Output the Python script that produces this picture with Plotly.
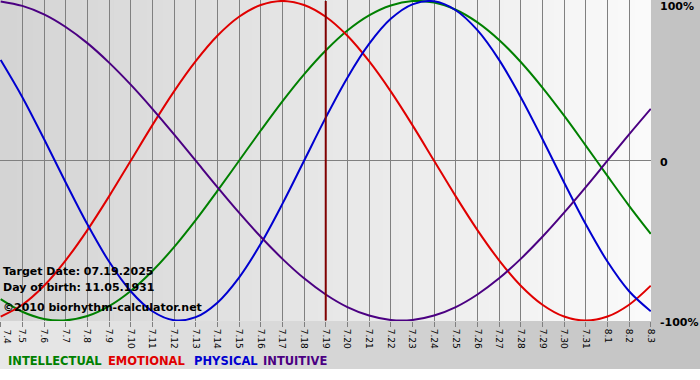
import plotly.graph_objects as go

# ---- data ----
dates = ["7.4", "7.5", "7.6", "7.7", "7.8", "7.9", "7.10", "7.11", "7.12", "7.13",
         "7.14", "7.15", "7.16", "7.17", "7.18", "7.19", "7.20", "7.21", "7.22", "7.23",
         "7.24", "7.25", "7.26", "7.27", "7.28", "7.29", "7.30", "7.31", "8.1", "8.2", "8.3"]

intellectual = [-0.866, -0.945, -0.990, -0.999, -0.972, -0.910, -0.815, -0.690, -0.541, -0.372,
                -0.189, 0.000, 0.189, 0.372, 0.541, 0.690, 0.815, 0.910, 0.972, 0.999,
                0.990, 0.945, 0.866, 0.756, 0.618, 0.458, 0.282, 0.095, -0.095, -0.282, -0.458]
emotional = [-0.975, -0.901, -0.782, -0.623, -0.434, -0.223, 0.000, 0.223, 0.434, 0.623,
             0.782, 0.901, 0.975, 1.000, 0.975, 0.901, 0.782, 0.623, 0.434, 0.223,
             0.000, -0.223, -0.434, -0.623, -0.782, -0.901, -0.975, -1.000, -0.975, -0.901, -0.782]
physical = [0.631, 0.398, 0.136, -0.136, -0.398, -0.631, -0.817, -0.942, -0.998, -0.979,
            -0.888, -0.731, -0.520, -0.270, 0.000, 0.270, 0.520, 0.731, 0.888, 0.979,
            0.998, 0.942, 0.817, 0.631, 0.398, 0.136, -0.136, -0.398, -0.631, -0.817, -0.942]
intuitive = [0.997, 0.969, 0.916, 0.837, 0.736, 0.614, 0.476, 0.325, 0.165, 0.000,
             -0.165, -0.325, -0.476, -0.614, -0.736, -0.837, -0.916, -0.969, -0.997, -0.997,
             -0.969, -0.916, -0.837, -0.736, -0.614, -0.476, -0.325, -0.165, 0.000, 0.165, 0.325]

series_names = ["INTELLECTUAL", "EMOTIONAL", "PHYSICAL", "INTUITIVE"]
series_colors = ["#008000", "#e00000", "#0000d0", "#4b0082"]

target_date = "7.19"
target_text = "Target Date: 07.19.2025"
birth_text = "Day of birth: 11.05.1931"
copyright_text = "©2010 biorhythm-calculator.net"

y_tick_vals = [1, 0, -1]
y_tick_text = ["100%", "0", "-100%"]

# ---- figure ----
W, H = 700, 380
ML, MR, MT, MB = 0, 49, 0, 59
PW, PH = W - ML - MR, H - MT - MB
FONT = "DejaVu Sans"

fig = go.Figure()
for name, vals, col in zip(series_names, [intellectual, emotional, physical, intuitive], series_colors):
    fig.add_trace(go.Scatter(x=list(range(len(dates))), y=vals, mode="lines", name=name,
                             line=dict(color=col, width=2, shape="spline", smoothing=1.0),
                             showlegend=False, hoverinfo="skip"))

def lerp_gray(a, b, t):
    v = int(round(a + (b - a) * t))
    return f"rgb({v},{v},{v})"

shapes = []
# outer background gradient (light left -> darker right)
N = 70
bottom_px = 369
for i in range(N):
    x0 = (i / N) * W / PW
    x1 = ((i + 1) / N) * W / PW + 0.002
    shapes.append(dict(type="rect", xref="paper", yref="paper", x0=x0, x1=x1,
                       y0=(PH - (bottom_px - MT)) / PH, y1=1.0,
                       fillcolor=lerp_gray(0xe8, 0xc2, i / (N - 1)),
                       line=dict(width=0), layer="below"))
# plot area gradient (darker left -> light right)
N2 = 80
for i in range(N2):
    x0 = i / N2
    x1 = min(1.0, (i + 1) / N2 + 0.002)
    shapes.append(dict(type="rect", xref="paper", yref="paper", x0=x0, x1=x1,
                       y0=0, y1=1, fillcolor=lerp_gray(0xd4, 0xfa, i / (N2 - 1)),
                       line=dict(width=0), layer="below"))
# target date line
ti = dates.index(target_date)
shapes.append(dict(type="line", xref="x", yref="y", x0=ti, x1=ti,
                   y0=-1, y1=1, line=dict(color="#800000", width=2), layer="above"))

annotations = []
for txt, ypx in [(target_text, 271), (birth_text, 287), (copyright_text, 307)]:
    annotations.append(dict(xref="paper", yref="paper", x=1 / PW, y=(PH - ypx) / PH,
                            xanchor="left", yanchor="middle", showarrow=False,
                            text=f"<b>{txt}</b>",
                            font=dict(family=FONT, size=11, color="#000000")))
# legend words
legend_x = [7, 107, 193, 262]
for n, c, xp in zip(series_names, series_colors, legend_x):
    annotations.append(dict(xref="paper", yref="paper", x=(xp - 1) / PW, y=(PH - 361) / PH,
                            xanchor="left", yanchor="middle", showarrow=False,
                            text=f"<b>{n}</b>",
                            font=dict(family=FONT, size=11.5, color=c)))
# right-hand percentage labels
for v, t, ysh in zip(y_tick_vals, y_tick_text, [-6, -2, -2]):
    annotations.append(dict(xref="paper", yref="y", x=(658 - ML) / PW, y=v, yshift=ysh,
                            xanchor="left", yanchor="middle", showarrow=False,
                            text=f"<b>{t}</b>",
                            font=dict(family=FONT, size=11, color="#000000")))
# first date label at the left page edge (plotly drops it as a tick label)
annotations.append(dict(xref="paper", yref="paper", x=0, y=-7 / PH, textangle=90,
                        xanchor="left", yanchor="top", showarrow=False, borderpad=0,
                        text=dates[0], font=dict(family=FONT, size=9, color="#000000")))

fig.update_layout(
    template="none",
    width=W, height=H,
    margin=dict(l=ML, r=MR, t=MT, b=MB, pad=0),
    paper_bgcolor="#ffffff",
    plot_bgcolor="rgba(0,0,0,0)",
    shapes=shapes,
    annotations=annotations,
    xaxis=dict(range=[-0.032, 30.01], tickvals=list(range(len(dates))), ticktext=dates,
               showgrid=True, gridcolor="#808080", gridwidth=1,
               ticks="outside", ticklen=5, tickcolor="#808080", tickwidth=1,
               tickangle=90, tickfont=dict(family=FONT, size=9, color="#000000"),
               showline=False, zeroline=False, fixedrange=True, automargin=False),
    yaxis=dict(range=[-1.003, 1.006], tickvals=y_tick_vals, showticklabels=False,
               showgrid=True, gridcolor="#808080", gridwidth=1,
               ticks="", showline=False, zeroline=False, fixedrange=True, automargin=False),
    showlegend=False,
)

fig.write_html("out.html", config={"displayModeBar": False})
